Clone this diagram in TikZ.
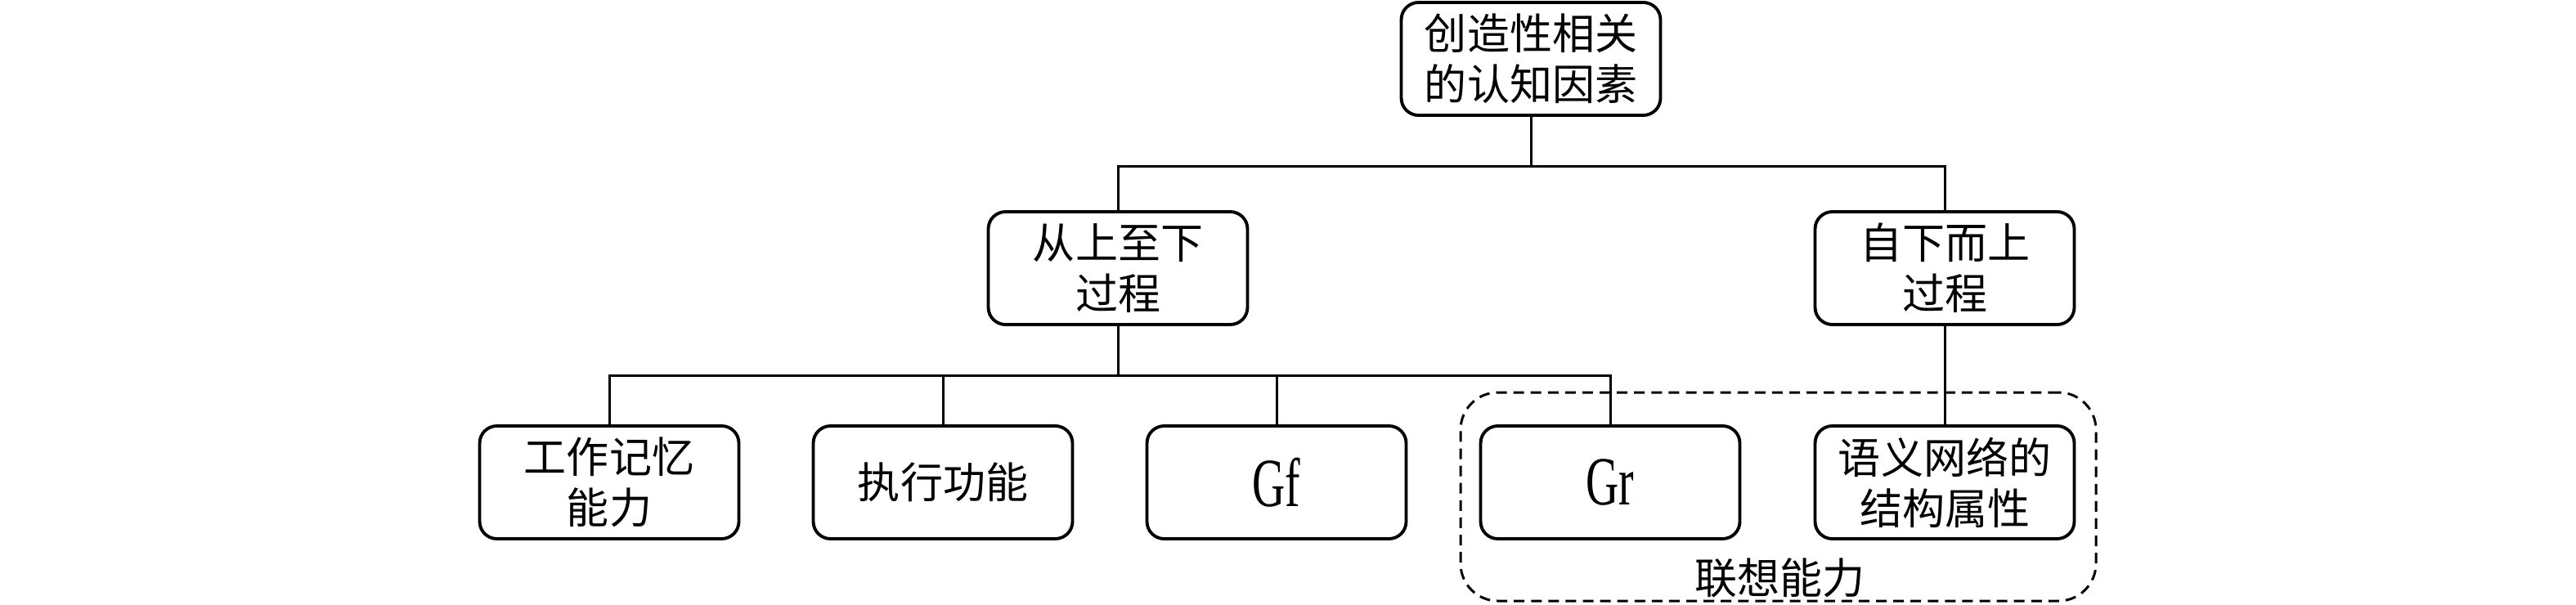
\documentclass[tikz,border=0pt]{standalone}
\usepackage{fontspec}
\setmainfont{Liberation Serif}
\newfontfamily\cjk{Noto Sans CJK SC}
\newfontfamily\narrowserif[FakeStretch=0.66]{Liberation Serif}
\usetikzlibrary{positioning}

\begin{document}
\begin{tikzpicture}[
  blk/.style={rectangle,draw,line width=1.1pt,rounded corners=6pt,
              minimum width=3.17cm,minimum height=1.38cm,inner sep=0pt,
              align=center,font=\cjk\fontsize{14.8pt}{17.6pt}\selectfont},
  lat/.style={font=\narrowserif\fontsize{24pt}{26pt}\selectfont},
  lnk/.style={line width=0.85pt},
  grp/.style={rectangle,draw,line width=0.85pt,dash pattern=on 3.7pt off 2.3pt,
              rounded corners=13pt,minimum width=7.77cm,minimum height=2.55cm},
  grplabel/.style={font=\cjk\fontsize{14.8pt}{17.6pt}\selectfont}
]
  \useasboundingbox (0,0) rectangle (31.5,-7.39);

  % associative ability group
  \node[grp] (assoc) at (21.745,-6.075) {};
  \node[grplabel] (assoclbl) at (21.76,-7.07) {联想能力};

  \node[blk] (top) at (18.72,-0.72) {创造性相关\\的认知因素};
  \node[blk] (tdown) at (13.67,-3.28) {从上至下\\过程};
  \node[blk] (bup) at (23.78,-3.28) {自下而上\\过程};

  \node[blk] (wm) at (7.45,-5.90) {工作记忆\\能力};
  \node[blk] (ef) at (11.53,-5.90) {执行功能};
  \node[blk,lat] (gf) at (15.61,-5.90) {Gf};
  \node[blk,lat] (gr) at (19.69,-5.90) {Gr};
  \node[blk] (sem) at (23.78,-5.90) {语义网络的\\结构属性};

  % tree connectors
  \draw[lnk] (top.south) -- ++(0,-0.605) coordinate (j1);
  \draw[lnk] (tdown.north) |- (j1) -| (bup.north);
  \draw[lnk] (tdown.south) -- ++(0,-0.61) coordinate (j2);
  \draw[lnk] (wm.north) |- (j2) -| (gr.north);
  \draw[lnk] (ef.north) -- (ef.north |- j2);
  \draw[lnk] (gf.north) -- (gf.north |- j2);
  \draw[lnk] (bup.south) -- (sem.north);
\end{tikzpicture}
\end{document}
